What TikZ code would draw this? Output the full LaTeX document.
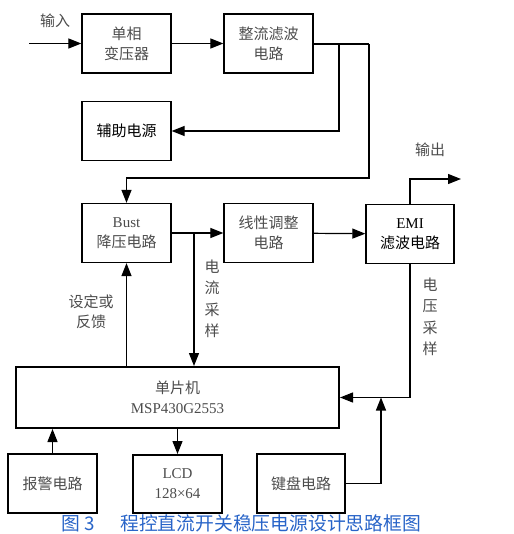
\documentclass[tikz,border=0pt]{standalone}
\usepackage{fontspec}
\setmainfont{Liberation Serif}
\newfontfamily\cjk{Noto Sans CJK SC}
\usetikzlibrary{arrows.meta}
\newcommand{\lat}[1]{{\rmfamily #1}}
\definecolor{capblue}{RGB}{40,100,200}
\tikzset{
  blk/.style={draw, line width=1.3pt, minimum width=89pt, minimum height=59pt,
    inner sep=0pt, align=center, font=\cjk\fontsize{15}{20}\selectfont, text=black!70},
  lbl/.style={font=\cjk\fontsize{15}{20}\selectfont, text=black!70, align=center, inner sep=0pt},
  vlbl/.style={lbl, font=\cjk\fontsize{15}{21.5}\selectfont},
  wire/.style={line width=1.2pt, -{Triangle[length=13pt,width=10pt]}},
}
\begin{document}
\begin{tikzpicture}[x=1pt,y=1pt]
      \useasboundingbox (0,0) rectangle (513,-534);
      % power path
      \node[blk] (trans) at (126.5,-43.5) {单相\\变压器};
      \node[blk] (rect) at (268.5,-43.5) {整流滤波\\电路};
      \node[blk, text=black] (aux) at (126.5,-131) {辅助电源};
      \node[blk] (buck) at (126.5,-233) {\lat{Bust}\\降压电路};
      \node[blk] (lin) at (268.5,-233) {线性调整\\电路};
      \node[blk, text=black, minimum width=88pt] (emi) at (410,-234) {\lat{EMI}\\滤波电路};
      % control part
      \node[blk, line width=2pt, minimum width=323pt, minimum height=61pt] (mcu) at (177.5,-397.5) {单片机\\\lat{MSP430G2553}};
      \node[blk] (alarm) at (52.5,-483.5) {报警电路};
      \node[blk, line width=2pt, minimum height=58pt] (lcd) at (177.5,-484) {\lat{LCD}\\\lat{128×64}};
      \node[blk, minimum width=88pt] (key) at (301,-483.5) {键盘电路};
      % labels
      \node[lbl] (inlbl) at (55,-21) {输入};
      \node[lbl] (outlbl) at (430,-150) {输出};
      \node[vlbl] (isamp) at (212,-299) {电\\流\\采\\样};
      \node[vlbl] (vsamp) at (430,-317) {电\\压\\采\\样};
      \node[lbl] (setfb) at (91,-312) {设定或\\反馈};
      \node[font=\cjk\fontsize{18.8}{20}\selectfont, text=capblue, inner sep=0pt] (cap) at (241.5,-523)
        {图 3\hspace{25pt}程控直流开关稳压电源设计思路框图};
      % wires
      \coordinate (in) at (29,-43.5);
      \coordinate (j1) at (339,-44);
      \coordinate (j2) at (369,-44);
      \coordinate (c1) at (369,-178);
      \coordinate (j3) at (194,-233);
      \coordinate (out) at (461,-179);
      \coordinate (c2) at (381,-397.5);
      \draw[wire] (in) -- (trans);
      \draw[wire] (trans) -- (rect);
      \draw[line width=2pt] (rect.east |- j2) -- (j2);
      \draw[wire] (j1) |- (aux.east);
      \draw[wire] (j2) -- (c1) -| (buck.north);
      \draw[wire] (buck) -- (lin);
      \draw[wire] (lin) -- (emi);
      \draw[wire] (j3) -- (j3 |- mcu.north);
      \draw[wire] (emi.north) |- (out);
      \draw[wire] (emi.south) |- (mcu.east);
      \draw[wire] (buck.south |- mcu.north) -- (buck.south);
      \draw[wire] (alarm.north) -- (alarm.north |- mcu.south);
      \draw[wire] (lcd.north |- mcu.south) -- (lcd.north);
      \draw[wire] (key.east) -| (c2);
    \end{tikzpicture}
\end{document}
